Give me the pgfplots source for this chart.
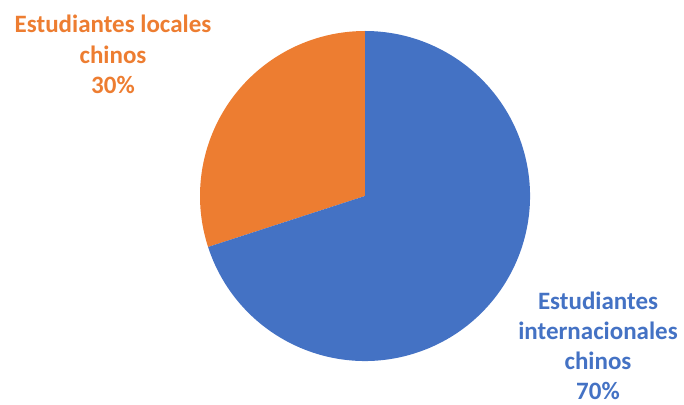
\documentclass[border=0pt]{standalone}
\usepackage{pgfplots}
\usepackage{pgfplotstable}
\pgfplotsset{compat=1.18}
\usepackage{fontspec}
\setmainfont{Carlito}
\definecolor{pieblue}{HTML}{4472C4}
\definecolor{pieorange}{HTML}{ED7D31}
\pgfplotstableread{
label value
locales 30
internacionales 70
}\piedata
\begin{document}
\begin{tikzpicture}
\pgfplotstablegetelem{0}{value}\of\piedata \let\va\pgfplotsretval
\pgfplotstablegetelem{1}{value}\of\piedata \let\vb\pgfplotsretval
\pgfmathsetmacro{\aStart}{90}
\pgfmathsetmacro{\aMid}{90+\va*3.6}
\pgfmathsetmacro{\aEnd}{\aMid+\vb*3.6}
\begin{axis}[
  scale only axis, width=684bp, height=405bp,
  xmin=0, xmax=684, ymin=0, ymax=405,
  hide axis, clip=false,
]
\path (axis cs:0,0) rectangle (axis cs:684,405);
\fill[pieorange] (axis cs:365,209) -- ++(\aStart:165bp) arc[start angle=\aStart, end angle=\aMid, radius=165bp] -- cycle;
\fill[pieblue] (axis cs:365,209) -- ++(\aMid:165bp) arc[start angle=\aMid, end angle=\aEnd, radius=165bp] -- cycle;
\begin{scope}[every node/.style={inner sep=0pt, anchor=base, font=\bfseries\fontsize{25bp}{30bp}\selectfont}]
\node[text=pieorange] at (axis cs:113,372) {Estudiantes locales};
\node[text=pieorange] at (axis cs:113,341.5) {chinos};
\node[text=pieorange] at (axis cs:113,311) {30\%};
\node[text=pieblue] at (axis cs:598,95) {Estudiantes};
\node[text=pieblue] at (axis cs:598,65) {internacionales};
\node[text=pieblue] at (axis cs:598,35) {chinos};
\node[text=pieblue] at (axis cs:598,6) {70\%};
\end{scope}
\end{axis}
\end{tikzpicture}
\end{document}
